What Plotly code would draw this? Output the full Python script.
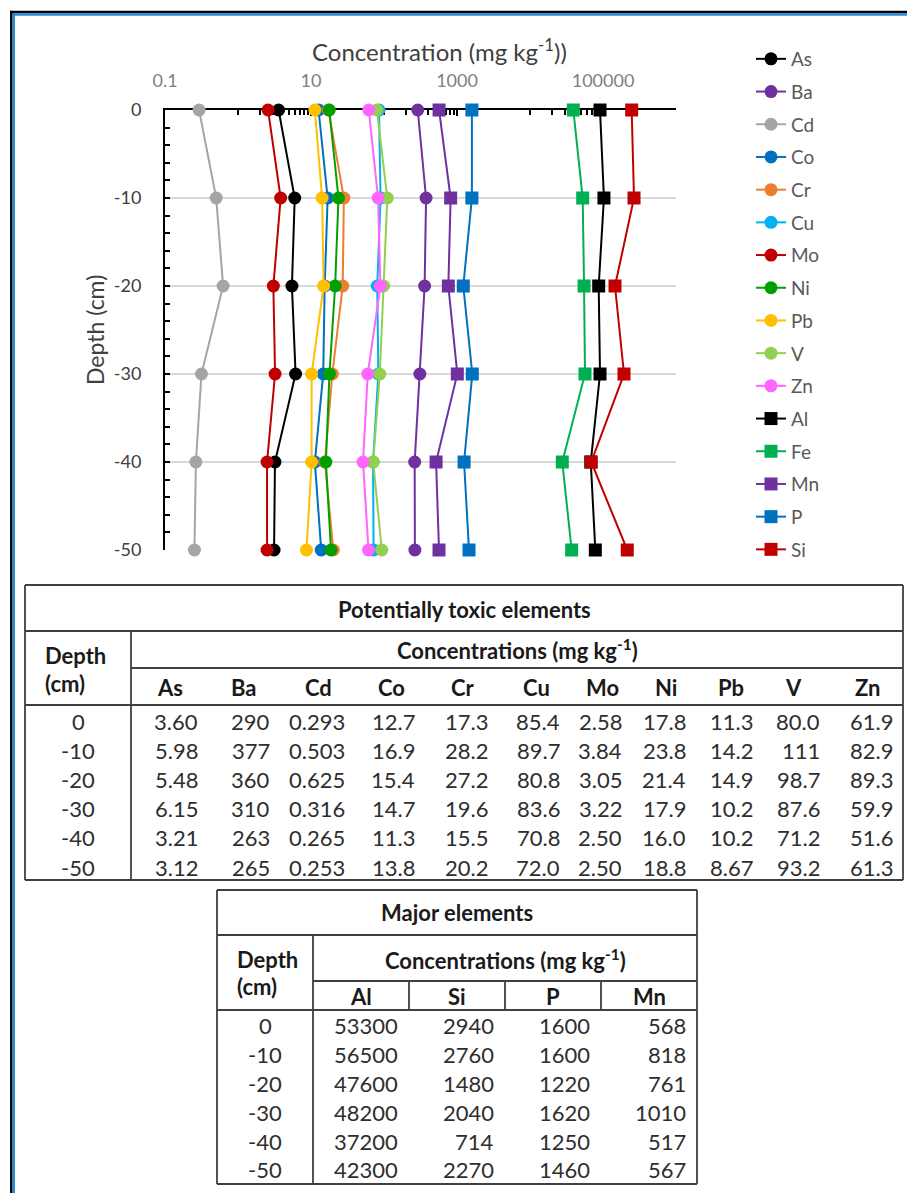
import plotly.graph_objects as go

W, H = 907, 1193

# ---------------- data ----------------
depth = [0, -10, -20, -30, -40, -50]
depth_labels = ["0", "-10", "-20", "-30", "-40", "-50"]

# potentially toxic elements, mg/kg
As = [3.60, 5.98, 5.48, 6.15, 3.21, 3.12]
Ba = [290, 377, 360, 310, 263, 265]
Cd = [0.293, 0.503, 0.625, 0.316, 0.265, 0.253]
Co = [12.7, 16.9, 15.4, 14.7, 11.3, 13.8]
Cr = [17.3, 28.2, 27.2, 19.6, 15.5, 20.2]
Cu = [85.4, 89.7, 80.8, 83.6, 70.8, 72.0]
Mo = [2.58, 3.84, 3.05, 3.22, 2.50, 2.50]
Ni = [17.8, 23.8, 21.4, 17.9, 16.0, 18.8]
Pb = [11.3, 14.2, 14.9, 10.2, 10.2, 8.67]
V = [80.0, 111, 98.7, 87.6, 71.2, 93.2]
Zn = [61.9, 82.9, 89.3, 59.9, 51.6, 61.3]

# major elements, mg/kg (table)
Al_tab = [53300, 56500, 47600, 48200, 37200, 42300]
Si_tab = [2940, 2760, 1480, 2040, 714, 2270]
P = [1600, 1600, 1220, 1620, 1250, 1460]
Mn = [568, 818, 761, 1010, 517, 567]

# Al, Fe and Si as plotted in the depth profile
Al_plot = [91000, 103000, 87300, 91000, 68000, 78500]
Fe_plot = [39200, 52700, 55000, 56700, 27700, 37200]
Si_plot = [247000, 266000, 146000, 194000, 69000, 215000]

x_tick_vals = [0.1, 10, 1000, 100000]
x_tick_text = ["0.1", "10", "1000", "100000"]
x_minor_vals = ([k for k in range(1, 10)] + [k * 100 for k in range(1, 10)]
                + [k * 10000 for k in range(1, 10)] + [1000000])

pte_names = ["As", "Ba", "Cd", "Co", "Cr", "Cu", "Mo", "Ni", "Pb", "V", "Zn"]
pte_values = [As, Ba, Cd, Co, Cr, Cu, Mo, Ni, Pb, V, Zn]
major_names = ["Al", "Si", "P", "Mn"]
major_values = [Al_tab, Si_tab, P, Mn]

# ---------------- series styling ----------------
series = [
    ("As", As, "#000000", "circle"),
    ("Ba", Ba, "#7030A0", "circle"),
    ("Cd", Cd, "#A5A5A5", "circle"),
    ("Co", Co, "#0070C0", "circle"),
    ("Cr", Cr, "#ED7D31", "circle"),
    ("Cu", Cu, "#00B0F0", "circle"),
    ("Mo", Mo, "#C00000", "circle"),
    ("Ni", Ni, "#00A000", "circle"),
    ("Pb", Pb, "#FFC000", "circle"),
    ("V", V, "#92D050", "circle"),
    ("Zn", Zn, "#FF66FF", "circle"),
    ("Al", Al_plot, "#000000", "square"),
    ("Fe", Fe_plot, "#00B050", "square"),
    ("Mn", Mn, "#7030A0", "square"),
    ("P", P, "#0070C0", "square"),
    ("Si", Si_plot, "#C00000", "square"),
]


def px(x):
    return x / W


def py(y):
    return 1 - y / H


FONT = "Lato"

fig = go.Figure()
for name, vals, color, sym in series:
    fig.add_trace(go.Scatter(
        x=vals, y=depth, name=name, mode="lines+markers",
        line=dict(color=color, width=2),
        marker=dict(color=color, size=13, symbol=sym, line=dict(width=0)),
        cliponaxis=False, legendgroup=name,
    ))

fig.update_layout(
    template="none",
    width=W, height=H,
    margin=dict(l=0, r=0, t=0, b=0, pad=0),
    paper_bgcolor="white", plot_bgcolor="white",
    font=dict(family=FONT, color="#404040"),
    showlegend=True,
    legend=dict(
        x=px(751), y=py(40), xanchor="left", yanchor="top",
        font=dict(family=FONT, size=19, color="#595959"),
        tracegroupgap=5, bgcolor="rgba(0,0,0,0)", borderwidth=0,
    ),
    xaxis=dict(
        type="log", range=[-1, 6], side="top",
        domain=[px(165), px(676)],
        tickmode="array", tickvals=x_tick_vals, ticktext=x_tick_text,
        ticks="inside", ticklen=6, tickwidth=1.5, tickcolor="#000000",
        minor=dict(tickmode="array", tickvals=x_minor_vals, ticks="inside",
                   ticklen=5, tickwidth=1.5, tickcolor="#000000", showgrid=False),
        showline=True, linecolor="#000000", linewidth=2,
        showgrid=False, zeroline=False, automargin=False,
        tickfont=dict(family=FONT, size=18, color="#808080"),
        ticklabelstandoff=14, layer="below traces",
    ),
    yaxis=dict(
        range=[-50, 0], domain=[py(550), py(110)],
        tickmode="array", tickvals=depth, ticktext=depth_labels,
        ticks="inside", ticklen=5, tickwidth=1.5, tickcolor="#000000",
        minor=dict(dtick=2, ticks="inside", ticklen=5, tickwidth=1.5,
                   tickcolor="#000000", showgrid=False),
        showline=True, linecolor="#000000", linewidth=2,
        showgrid=True, gridcolor="#D9D9D9", gridwidth=1.5,
        zeroline=False, automargin=False,
        tickfont=dict(family=FONT, size=18, color="#404040"),
        ticklabelstandoff=18, layer="below traces",
    ),
)

annotations = []
shapes = []


def text(x, y, s, size=22, color="#333333", anchor="center", bold=False, angle=0):
    annotations.append(dict(
        x=px(x), y=py(y), xref="paper", yref="paper", text=f"<b>{s}</b>" if bold else s,
        showarrow=False, xanchor=anchor, yanchor="middle", textangle=angle,
        font=dict(family=FONT, size=size, color=color),
    ))


def hline(x0, x1, y, color="#404040", width=1.8):
    shapes.append(dict(type="line", xref="paper", yref="paper",
                       x0=px(x0), x1=px(x1), y0=py(y), y1=py(y),
                       line=dict(color=color, width=width)))


def vline(x, y0, y1, color="#404040", width=1.8):
    shapes.append(dict(type="line", xref="paper", yref="paper",
                       x0=px(x), x1=px(x), y0=py(y0), y1=py(y1),
                       line=dict(color=color, width=width)))


# axis titles
text(439, 50, "Concentration (mg kg<sup>-1</sup>))", size=24, color="#404040")
text(95, 330, "Depth (cm)", size=23, color="#404040", angle=-90)


def fmt3(v):
    s = format(v, "#.3g")
    if "e" in s:
        return str(int(round(v)))
    return s.rstrip(".")


HEAD = "#1a1a1a"
BODY = "#2e2e2e"

# ---------------- table of potentially toxic elements ----------------
T1L, T1R, T1T, T1B, T1D = 25, 903, 585, 880, 131
for y in (T1T, T1B):
    hline(T1L, T1R, y)
vline(T1L, T1T, T1B)
vline(T1R, T1T, T1B)
hline(T1L, T1R, 631)
hline(T1D, T1R, 668)
hline(T1L, T1R, 705)
vline(T1D, 631, T1B)

text((T1L + T1R) / 2, 609, "Potentially toxic elements", size=22, color=HEAD, bold=True)
text((T1D + T1R) / 2, 650, "Concentrations (mg kg<sup>-1</sup>)", size=22, color=HEAD, bold=True)
text(43, 655, "Depth", size=22, color=HEAD, anchor="left", bold=True)
text(43, 683, "(cm)", size=22, color=HEAD, anchor="left", bold=True)

t1_head_x = [170, 244, 318, 391, 463, 536, 602, 666, 731, 793, 867]
t1_right_x = [200, 272, 347, 417, 490, 562, 624, 688, 755, 822, 895]
t1_row_y = [721, 750, 779, 808, 837, 867]
for name, hx in zip(pte_names, t1_head_x):
    text(hx, 687, name, size=22, color=HEAD, bold=True)
for r, (lab, ry) in enumerate(zip(depth_labels, t1_row_y)):
    text((T1L + T1D) / 2, ry, lab, size=22, color=BODY)
    for vals, rx in zip(pte_values, t1_right_x):
        text(rx, ry, fmt3(vals[r]), size=22, color=BODY, anchor="right")

# ---------------- table of major elements ----------------
T2L, T2R, T2T, T2B, T2D = 217, 697, 890, 1184, 313
for y in (T2T, T2B):
    hline(T2L, T2R, y)
vline(T2L, T2T, T2B)
vline(T2R, T2T, T2B)
hline(T2L, T2R, 935)
hline(T2D, T2R, 981)
hline(T2L, T2R, 1010)
vline(T2D, 935, T2B)
for x in (409, 505, 601):
    vline(x, 981, 1010)

text((T2L + T2R) / 2, 913, "Major elements", size=22, color=HEAD, bold=True)
text((T2D + T2R) / 2, 959, "Concentrations (mg kg<sup>-1</sup>)", size=22, color=HEAD, bold=True)
text(235, 959, "Depth", size=22, color=HEAD, anchor="left", bold=True)
text(235, 987, "(cm)", size=22, color=HEAD, anchor="left", bold=True)

t2_head_x = [361, 457, 553, 649]
t2_right_x = [400, 496, 592, 688]
t2_row_y = [1025, 1054, 1083, 1112, 1141, 1169]
for name, hx in zip(major_names, t2_head_x):
    text(hx, 996, name, size=22, color=HEAD, bold=True)
for r, (lab, ry) in enumerate(zip(depth_labels, t2_row_y)):
    text((T2L + T2D) / 2, ry, lab, size=22, color=BODY)
    for vals, rx in zip(major_values, t2_right_x):
        text(rx, ry, str(int(vals[r])), size=22, color=BODY, anchor="right")

# ---------------- page frame ----------------
shapes.append(dict(type="line", xref="paper", yref="paper", x0=px(10), x1=1,
                   y0=py(12), y1=py(12), line=dict(color="#000000", width=2.5)))
shapes.append(dict(type="line", xref="paper", yref="paper", x0=px(12.5), x1=1,
                   y0=py(14.5), y1=py(14.5), line=dict(color="#2B8AD6", width=2.5)))
shapes.append(dict(type="line", xref="paper", yref="paper", x0=px(11.3), x1=px(11.3),
                   y0=py(10.8), y1=0, line=dict(color="#000000", width=2.5)))
shapes.append(dict(type="line", xref="paper", yref="paper", x0=px(13.8), x1=px(13.8),
                   y0=py(13.3), y1=0, line=dict(color="#2B8AD6", width=2.5)))

fig.update_layout(annotations=annotations, shapes=shapes)
fig.write_html("out.html")
